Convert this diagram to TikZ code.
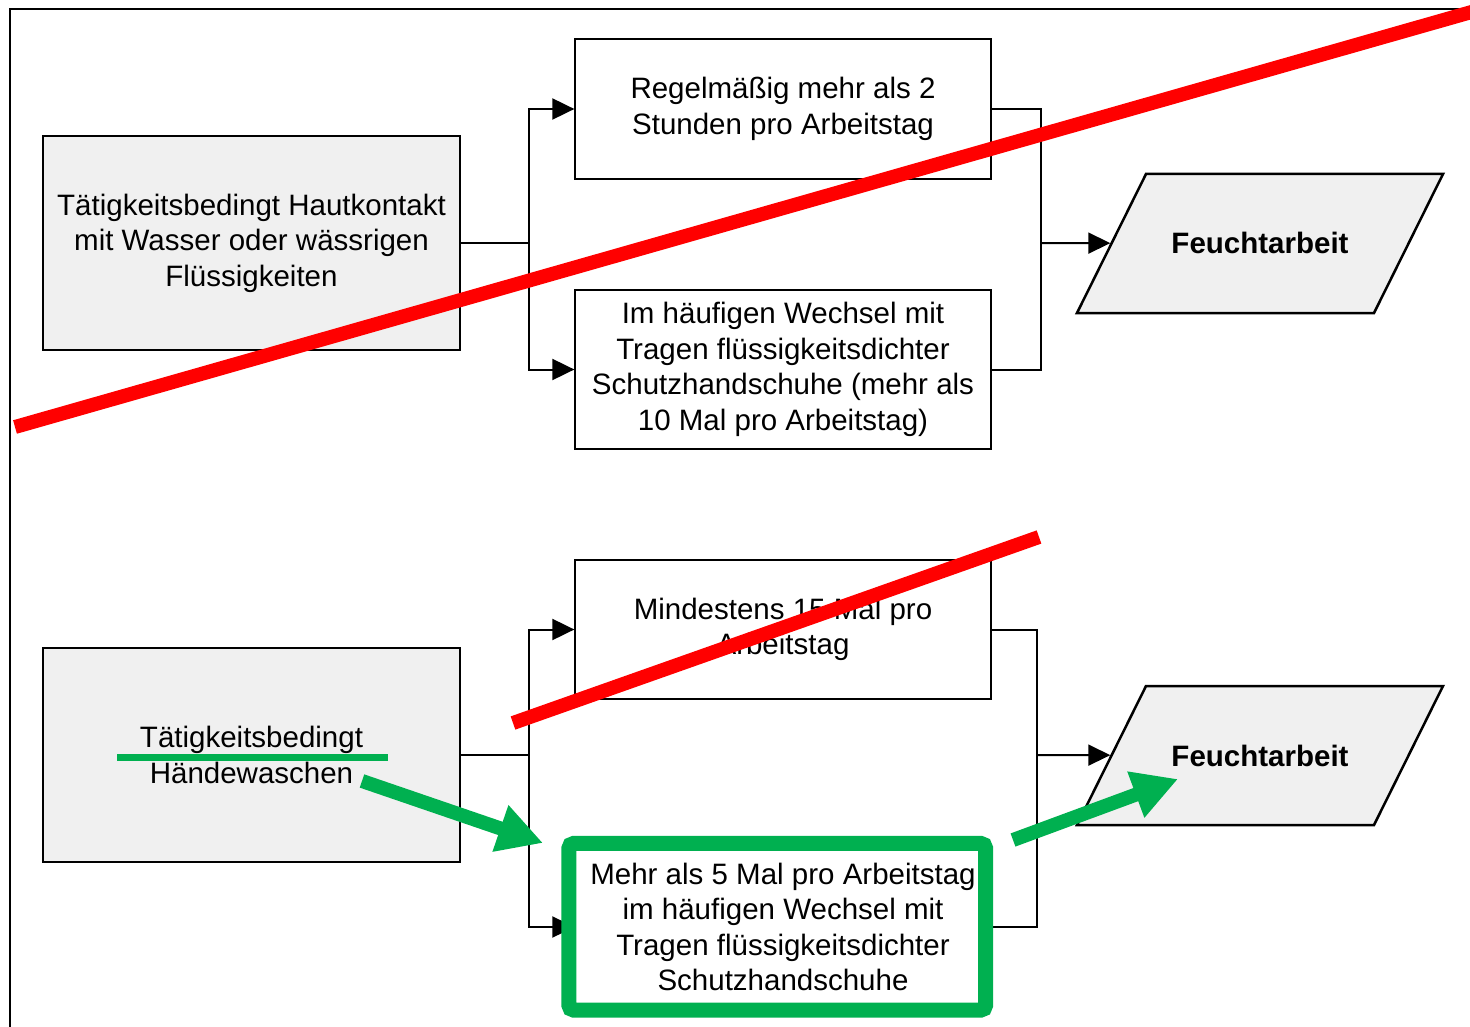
\documentclass[tikz,border=0pt]{standalone}
\usepackage{fontspec}
\setmainfont{Liberation Sans}
\usetikzlibrary{arrows.meta}
\usetikzlibrary{shapes.geometric}

\definecolor{boxgrey}{HTML}{F0F0F0}
\definecolor{markred}{HTML}{FF0000}
\definecolor{markgreen}{HTML}{00B050}

\begin{document}
\begin{tikzpicture}[x=1pt,y=-1pt,>={Triangle[length=22pt,width=21pt]},line width=2pt,
                    font=\fontsize{29.5}{35.5}\selectfont,
                    grey node/.style={rectangle,draw,line width=2.5pt,fill=boxgrey,minimum width=417pt,minimum height=214pt,align=center,inner sep=0pt},
                    cond node/.style={rectangle,draw,line width=1.3pt,fill=white,minimum width=416pt,align=center,inner sep=0pt},
                    wet node/.style={trapezium,trapezium left angle=63.6,trapezium right angle=116.4,trapezium stretches body=true,draw,line width=2.5pt,fill=boxgrey,minimum width=366pt,text height=21pt,text depth=0pt,inner ysep=59pt,inner xsep=0pt,font=\fontsize{29.5}{35.5}\selectfont\bfseries},
                    to side/.style={to path={|- (\tikztotarget)}},
                    from side/.style={to path={-| (\tikztotarget)}},
                    red mark/.style={draw=markred,line width=14pt},
                    green mark/.style={draw=markgreen,line width=14pt,-{Triangle[length=45pt,width=46pt]}}]
\useasboundingbox (0,0) rectangle (1470,1027);
\draw[line width=2.5pt] (1470,9) -- (10,9) -- (10,1027);

\node[grey node] (1) at (251.5,243) {Tätigkeitsbedingt Hautkontakt\\mit Wasser oder wässrigen\\Flüssigkeiten};
\node[cond node,minimum height=140pt] (2) at (783,109) {Regelmäßig mehr als 2\\Stunden pro Arbeitstag};
\node[cond node,minimum height=159pt] (3) at (783,369.5) {Im häufigen Wechsel mit\\Tragen flüssigkeitsdichter\\Schutzhandschuhe (mehr als\\10 Mal pro Arbeitstag)};
\node[wet node] (4) at (1260,243.5) {Feuchtarbeit};
\coordinate (a) at (529,243);
\coordinate (b) at (1041,243);

\node[grey node] (5) at (251.5,755) {Tätigkeitsbedingt\\Händewaschen};
\node[cond node,minimum height=139pt] (6) at (783,629.5) {Mindestens 15 Mal pro\\Arbeitstag};
\node[cond node,draw=none,minimum height=159pt] (7) at (783,927) {Mehr als 5 Mal pro Arbeitstag\\im häufigen Wechsel mit\\Tragen flüssigkeitsdichter\\Schutzhandschuhe};
\node[wet node] (8) at (1260,755.5) {Feuchtarbeit};
\coordinate (c) at (529,755);
\coordinate (d) at (1037,755);

\path
  (1) edge (a)
  (a) edge[->,to side] (2.west)
      edge[->,to side] (3.west)
  (2.east) edge[from side] (b)
  (3.east) edge[from side] (b)
  (b) edge[->] (4);

\path
  (5) edge (c)
  (c) edge[->,to side] (6.west)
      edge[->,to side] (7.west)
  (6.east) edge[from side] (d)
  (7.east) edge[from side] (d)
  (d) edge[->] (8);

\draw[markgreen,line width=15pt,rounded corners=5pt] ([shift={(-5.5,-3.5)}]7.north west) rectangle ([shift={(-6,3)}]7.south east);

\coordinate (r1) at (15,427);
\coordinate (r2) at (1475,11);
\coordinate (r3) at (513,723);
\coordinate (r4) at (1039,537);
\draw[red mark] (r1) -- (r2);
\draw[red mark] (r3) -- (r4);

\coordinate (u1) at (117,757);
\coordinate (u2) at (388,757);
\coordinate (g1) at (362,781);
\coordinate (g2) at (543,843);
\coordinate (g3) at (1013,840);
\coordinate (g4) at (1178,779);
\draw[markgreen,line width=7pt] (u1) -- (u2);
\draw[green mark] (g1) -- (g2);
\draw[green mark] (g3) -- (g4);
\end{tikzpicture}
\end{document}
